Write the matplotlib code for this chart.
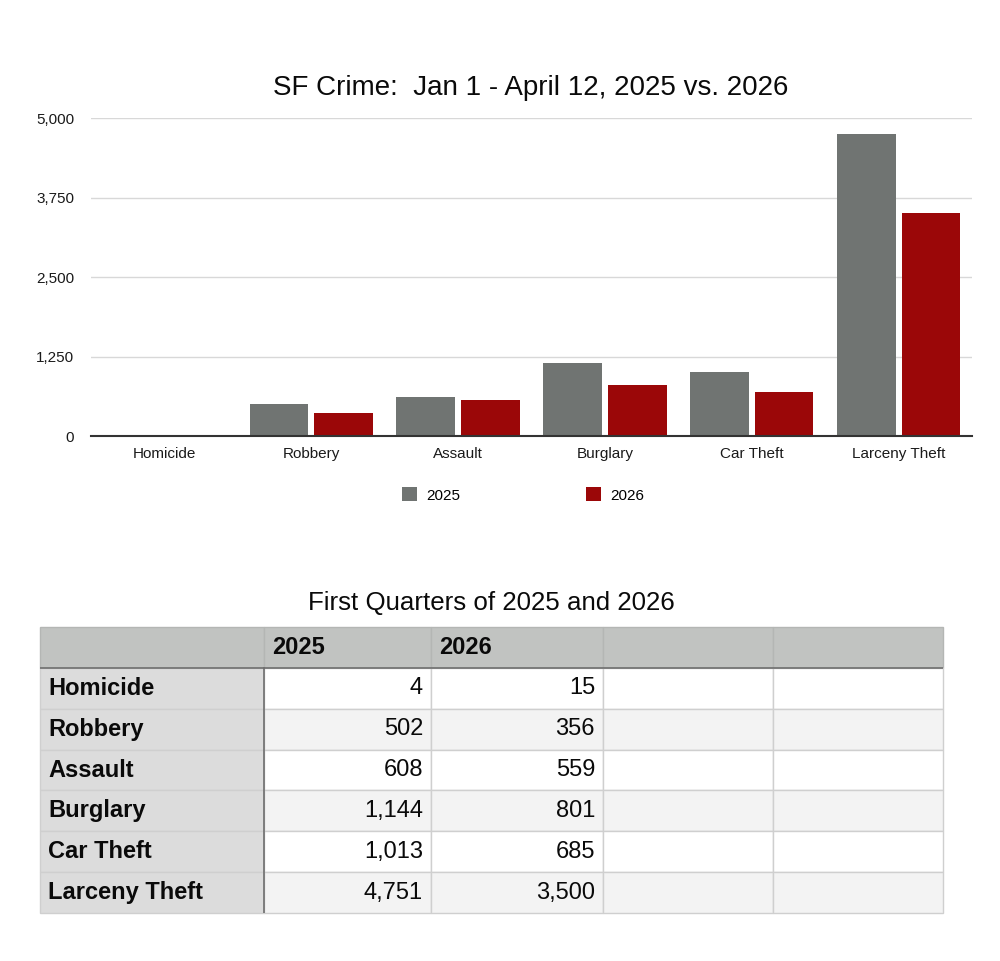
import numpy as np
import matplotlib.pyplot as plt

plt.rcParams['font.family'] = ['Liberation Sans', 'DejaVu Sans']

# data
crimes = ['Homicide', 'Robbery', 'Assault', 'Burglary', 'Car Theft', 'Larceny Theft']
y2025 = [4, 502, 608, 1144, 1013, 4751]
y2026 = [15, 356, 559, 801, 685, 3500]
yticks = [0, 1250, 2500, 3750, 5000]
col_labels = ['', '2025', '2026', '', '']

grey = '#707472'
red = '#9b0708'

fig = plt.figure(figsize=(10, 9.61), dpi=100)

# bar chart
ax = fig.add_axes([0.091, 0.5463, 0.881, 0.3309])
x = np.arange(len(crimes))
w = 0.40
ax.bar(x - 0.22, y2025, w, color=grey, label='2025', zorder=3)
ax.bar(x + 0.22, y2026, w, color=red, label='2026', zorder=3)
ax.set_xlim(-0.5, len(crimes) - 0.5)
ax.set_ylim(0, 5000)
ax.set_yticks(yticks)
ax.set_yticklabels([f'{v:,}' for v in yticks])
ax.set_xticks(x)
ax.set_xticklabels(crimes)
ax.tick_params(axis='both', length=0, labelsize=11, colors='#1a1a1a')
ax.tick_params(axis='y', pad=12)
ax.tick_params(axis='x', pad=8)
ax.grid(axis='y', color='#d8d8d8', linewidth=1, zorder=0)
for s in ['top', 'right', 'left']:
    ax.spines[s].set_visible(False)
ax.spines['bottom'].set_color('#333333')
ax.spines['bottom'].set_linewidth(1.5)
ax.spines['bottom'].set_zorder(4)
fig.text(0.531, 1 - 88 / 961, 'SF Crime:  Jan 1 - April 12, 2025 vs. 2026',
         ha='center', va='center', fontsize=20, color='#0a0a0a')

fig.legend(loc='center', bbox_to_anchor=(0.523, 1 - 495 / 961), ncol=2,
           frameon=False, fontsize=11, handlelength=1.0, handleheight=1.0,
           columnspacing=8.2, handletextpad=0.6)

# table
fig.text(0.4915, 1 - 603 / 961, 'First Quarters of 2025 and 2026',
         ha='center', va='center', fontsize=18.6, color='#0a0a0a')
tax = fig.add_axes([0.040, 1 - 913 / 961, 0.903, (913 - 627) / 961])
tax.set_axis_off()
cell_text = [[c, f'{a:,}', f'{b:,}', '', ''] for c, a, b in zip(crimes, y2025, y2026)]
widths = np.array([224, 167, 172, 170, 170], dtype=float)
widths = widths / widths.sum()
tbl = tax.table(cellText=cell_text, colLabels=col_labels, colWidths=list(widths),
                bbox=[0, 0, 1, 1], cellLoc='right')
tbl.auto_set_font_size(False)
for (r, c), cell in tbl.get_celld().items():
    cell.set_edgecolor('#cfcfcf')
    cell.set_linewidth(1)
    txt = cell.get_text()
    txt.set_fontsize(17)
    txt.set_color('#0a0a0a')
    cell.PAD = 8 / (widths[c] * 903)
    if r == 0:
        cell.set_facecolor('#c1c3c1')
        cell.set_edgecolor('#b4b6b4')
        txt.set_fontweight('bold')
        txt.set_horizontalalignment('left')
    elif c == 0:
        cell.set_facecolor('#dcdcdc')
        txt.set_fontweight('bold')
        txt.set_horizontalalignment('left')
    else:
        cell.set_facecolor('white' if r % 2 == 1 else '#f3f3f3')
tax.plot([0, 1], [6 / 7, 6 / 7], color='#6e6e6e', linewidth=1.2,
         transform=tax.transAxes, zorder=5)
tax.plot([widths[0], widths[0]], [0, 6 / 7], color='#6e6e6e', linewidth=1.2,
         transform=tax.transAxes, zorder=5)

fig.savefig('out.png', dpi=100, facecolor='white')
